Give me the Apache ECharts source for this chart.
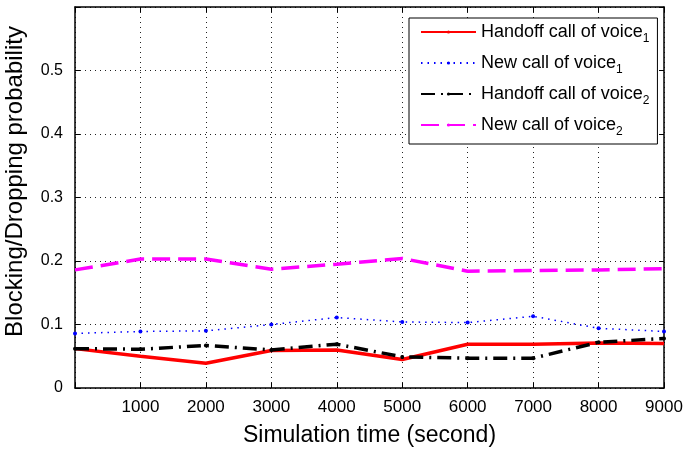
<!DOCTYPE html>
<html>
<head>
<meta charset="utf-8">
<script src="https://cdn.jsdelivr.net/npm/echarts@6/dist/echarts.min.js"></script>
<style>
  html, body { margin: 0; padding: 0; background: #fff; }
  #main { width: 685px; height: 451px; }
</style>
</head>
<body>
<div id="main"></div>
<script>
// simulation time (s) and probabilities
var timeSec = [0, 1000, 2000, 3000, 4000, 5000, 6000, 7000, 8000, 9000];
var handoffVoice1 = [0.062, 0.050, 0.039, 0.059, 0.060, 0.045, 0.069, 0.069, 0.071, 0.070];
var newVoice1     = [0.086, 0.089, 0.090, 0.100, 0.111, 0.104, 0.103, 0.113, 0.094, 0.089];
var handoffVoice2 = [0.062, 0.061, 0.067, 0.060, 0.069, 0.049, 0.047, 0.047, 0.072, 0.078];
var newVoice2     = [0.186, 0.203, 0.203, 0.187, 0.195, 0.204, 0.184, 0.185, 0.186, 0.188];
var seriesNames = ['Handoff call of voice{sub|1}', 'New call of voice{sub|1}',
                   'Handoff call of voice{sub|2}', 'New call of voice{sub|2}'];

function pairs(ys) {
    return timeSec.map(function (t, i) { return [t, ys[i]]; });
}

var font = 'Liberation Sans, Arial, sans-serif';
var myChart = echarts.init(document.getElementById('main'));

var gridLine = { show: true, lineStyle: { color: '#222', type: [1, 4], width: 1 } };
var frameLine = { show: true, onZero: false, lineStyle: { color: '#000', width: 1.5 } };
var tick = { inside: true, length: 5, lineStyle: { color: '#000' } };

var option = {
    animation: false,
    textStyle: { fontFamily: font },
    grid: { left: 75, right: 21, top: 7, bottom: 63, outerBoundsMode: 'none' },
    legend: {
        orient: 'vertical',
        left: 409,
        top: 18,
        backgroundColor: '#fff',
        borderColor: '#000',
        borderWidth: 1,
        padding: [5, 8, 6, 11],
        itemWidth: 55,
        itemHeight: 4,
        itemGap: 9,
        data: seriesNames,
        textStyle: {
            fontSize: 18,
            color: '#000',
            fontFamily: font,
            rich: {
                sub: { fontSize: 12, verticalAlign: 'bottom', padding: [14, 0, 0, 0], fontFamily: font, color: '#000' }
            }
        }
    },
    xAxis: [{
        type: 'value',
        min: 0, max: 9000, interval: 1000,
        name: 'Simulation time (second)',
        nameLocation: 'middle',
        nameGap: 36,
        nameTextStyle: { fontSize: 23, color: '#000', fontFamily: font },
        axisLine: frameLine,
        axisTick: tick,
        axisLabel: {
            fontSize: 17, color: '#000', margin: 11, fontFamily: font,
            formatter: function (v) { return v === 0 ? '' : v; }
        },
        splitLine: gridLine
    }, {
        type: 'value', position: 'top',
        min: 0, max: 9000, interval: 1000,
        axisLine: frameLine,
        axisTick: tick,
        axisLabel: { show: false },
        splitLine: { show: false }
    }],
    yAxis: [{
        type: 'value',
        min: 0, max: 0.6, interval: 0.1,
        name: 'Blocking/Dropping probability',
        nameLocation: 'middle',
        nameGap: 48,
        nameTextStyle: { fontSize: 24, color: '#000', fontFamily: font, padding: [0, 0, 0, 32] },
        axisLine: frameLine,
        axisTick: tick,
        axisLabel: {
            fontSize: 16, color: '#000', margin: 12, fontFamily: font,
            formatter: function (v) { return v > 0.55 ? '' : (Math.round(v * 10) / 10).toString(); }
        },
        splitLine: gridLine
    }, {
        type: 'value', position: 'right',
        min: 0, max: 0.6, interval: 0.1,
        axisLine: frameLine,
        axisTick: tick,
        axisLabel: { show: false },
        splitLine: { show: false }
    }],
    series: [
        {
            name: seriesNames[0], type: 'line',
            data: pairs(handoffVoice1),
            symbol: 'none',
            itemStyle: { color: '#ff0000' },
            lineStyle: { color: '#ff0000', width: 3.5 }
        },
        {
            name: seriesNames[1], type: 'line',
            data: pairs(newVoice1),
            symbol: 'circle', symbolSize: 4,
            itemStyle: { color: '#0000ff' },
            lineStyle: { color: '#0000ff', width: 1.5, type: [1.5, 5] }
        },
        {
            name: seriesNames[2], type: 'line',
            data: pairs(handoffVoice2),
            symbol: 'circle', symbolSize: 4,
            itemStyle: { color: '#000' },
            lineStyle: { color: '#000', width: 3.5, type: [14, 6, 2, 6] }
        },
        {
            name: seriesNames[3], type: 'line',
            data: pairs(newVoice2),
            symbol: 'none',
            itemStyle: { color: '#ff00ff' },
            lineStyle: { color: '#ff00ff', width: 3.5, type: [18, 8] }
        }
    ]
};
myChart.setOption(option);

window.addEventListener('resize', function () {
    myChart.resize();
});
</script>
</body>
</html>
